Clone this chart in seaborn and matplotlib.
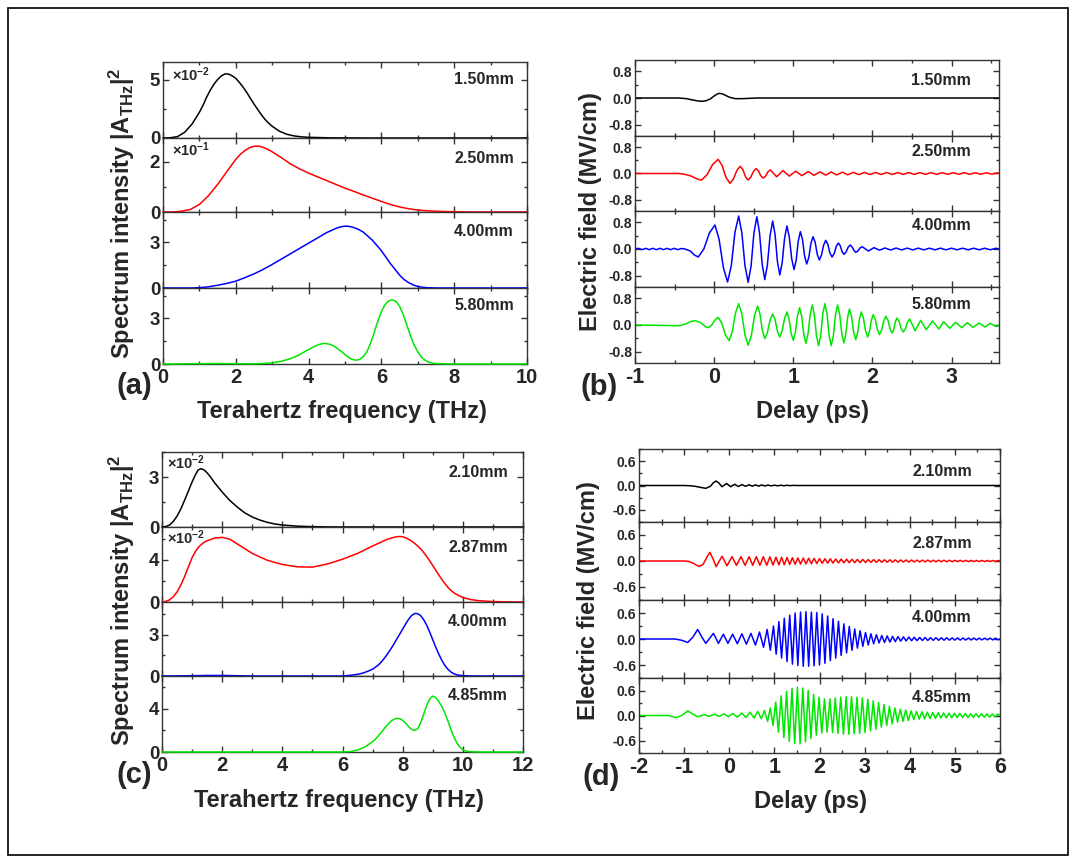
import matplotlib
matplotlib.use("Agg")
import matplotlib.pyplot as plt
from matplotlib.ticker import MultipleLocator, FormatStrFormatter
from matplotlib.patches import Rectangle
import seaborn as sns

sns.set_theme(style="ticks")
plt.rcParams["font.family"] = ["Liberation Sans", "DejaVu Sans"]
plt.rcParams["font.weight"] = "bold"
plt.rcParams["axes.unicode_minus"] = False
plt.rcParams["mathtext.fontset"] = "custom"
plt.rcParams["mathtext.rm"] = "Liberation Sans"
plt.rcParams["mathtext.bf"] = "Liberation Sans:bold"
plt.rcParams["mathtext.it"] = "Liberation Sans:bold"
plt.rcParams["mathtext.default"] = "bf"

# ---------------- data: spectra (frequency THz, intensity) ----------------
a1_f = [0, 0.2, 0.4, 0.6, 0.8, 1.0, 1.1, 1.2, 1.3, 1.4, 1.5, 1.6, 1.7, 1.8, 1.9, 2.0, 2.1, 2.2, 2.3, 2.4, 2.5,
        2.6, 2.7, 2.8, 2.9, 3.0, 3.2, 3.4, 3.6, 3.8, 4.0, 4.5, 5.0, 5.5, 10]
a1_i = [0, 0.02, 0.12, 0.5, 1.2, 2.2, 2.8, 3.5, 4.1, 4.6, 5.0, 5.3, 5.48, 5.47, 5.32, 5.1, 4.75, 4.35, 3.9, 3.4, 2.9,
        2.45, 2.0, 1.6, 1.28, 1.0, 0.58, 0.32, 0.18, 0.1, 0.06, 0.02, 0.005, 0, 0]

a2_f = [0, 0.25, 0.5, 0.75, 1, 1.25, 1.5, 1.75, 2, 2.125, 2.25, 2.375, 2.5, 2.625, 2.75, 2.875, 3, 3.25, 3.5, 3.75,
        4, 4.25, 4.5, 4.75, 5, 5.25, 5.5, 5.75, 6, 6.25, 6.5, 6.75, 7, 7.25, 7.5, 8, 8.5, 10]
a2_i = [0, 0, 0.03, 0.1, 0.3, 0.65, 1.1, 1.6, 2.1, 2.3, 2.45, 2.56, 2.62, 2.63, 2.58, 2.5, 2.4, 2.17, 1.92, 1.72,
        1.55, 1.4, 1.25, 1.1, 0.95, 0.82, 0.68, 0.55, 0.42, 0.3, 0.2, 0.13, 0.08, 0.05, 0.03, 0.01, 0, 0]

a3_f = [0, 0.75, 1, 1.25, 1.5, 1.75, 2, 2.25, 2.5, 2.75, 3, 3.25, 3.5, 3.75, 4, 4.25, 4.5, 4.75, 4.875, 5, 5.125,
        5.25, 5.375, 5.5, 5.75, 6, 6.25, 6.5, 6.625, 6.75, 6.875, 7, 7.125, 7.25, 7.5, 10]
a3_i = [0, 0, 0.02, 0.08, 0.18, 0.3, 0.45, 0.68, 0.93, 1.22, 1.55, 1.9, 2.25, 2.6, 2.95, 3.3, 3.65, 3.92, 4.02, 4.07,
        4.05, 3.97, 3.85, 3.68, 3.15, 2.45, 1.6, 0.85, 0.55, 0.35, 0.2, 0.1, 0.05, 0.02, 0, 0]

a4_f = [0, 1.0, 1.5, 2.0, 2.5, 2.75, 3.0, 3.25, 3.5, 3.6, 3.7, 3.8, 3.9, 4.0, 4.1, 4.2, 4.3, 4.4, 4.5, 4.6, 4.7,
        4.8, 4.9, 5.0, 5.1, 5.2, 5.3, 5.4, 5.5, 5.6, 5.7, 5.8, 5.9, 6.0, 6.1, 6.2, 6.3, 6.4, 6.5, 6.6, 6.7, 6.8,
        6.9, 7.0, 7.1, 7.2, 7.3, 7.4, 7.5, 7.75, 8, 10]
a4_i = [0, 0.02, 0.03, 0.02, 0.01, 0.03, 0.08, 0.18, 0.35, 0.45, 0.55, 0.68, 0.82, 0.95, 1.08, 1.2, 1.29, 1.35, 1.34,
        1.28, 1.17, 1.0, 0.82, 0.62, 0.44, 0.3, 0.25, 0.3, 0.48, 0.8, 1.35, 2.05, 2.8, 3.45, 3.9, 4.15, 4.22, 4.12,
        3.8, 3.25, 2.55, 1.85, 1.25, 0.8, 0.45, 0.25, 0.12, 0.06, 0.03, 0.01, 0, 0]

c1_f = [0, 0.125, 0.25, 0.375, 0.5, 0.625, 0.75, 0.875, 1.0, 1.1, 1.2, 1.3, 1.4, 1.5, 1.625, 1.75, 2, 2.25, 2.5,
        2.75, 3, 3.25, 3.5, 3.75, 4, 4.5, 5, 5.5, 6, 12]
c1_i = [0, 0.03, 0.12, 0.33, 0.65, 1.08, 1.6, 2.15, 2.7, 3.1, 3.42, 3.5, 3.42, 3.25, 2.97, 2.65, 2.1, 1.6, 1.2,
        0.85, 0.6, 0.42, 0.28, 0.18, 0.12, 0.05, 0.02, 0.005, 0, 0]

c2_f = [0, 0.125, 0.25, 0.375, 0.5, 0.625, 0.75, 0.875, 1.0, 1.125, 1.25, 1.375, 1.5, 1.75, 2.0, 2.25, 2.5, 3.0,
        3.5, 4.0, 4.5, 5.0, 5.5, 6.0, 6.5, 7.0, 7.5, 7.75, 7.875, 8.0, 8.125, 8.25, 8.375, 8.5, 8.625, 8.75, 8.875,
        9.0, 9.125, 9.25, 9.375, 9.5, 9.625, 9.75, 10.0, 10.25, 10.5, 11, 11.5, 12]
c2_i = [0, 0.06, 0.2, 0.5, 0.95, 1.6, 2.4, 3.3, 4.2, 4.85, 5.3, 5.6, 5.8, 6.05, 6.12, 5.95, 5.5, 4.6,
        3.95, 3.55, 3.33, 3.3, 3.6, 4.05, 4.6, 5.3, 5.95, 6.15, 6.2, 6.18, 6.05, 5.85, 5.6, 5.3, 4.95, 4.5, 4.0,
        3.45, 2.9, 2.35, 1.85, 1.4, 1.05, 0.78, 0.42, 0.24, 0.13, 0.04, 0.01, 0]

c3_f = [0, 1, 1.5, 2, 2.5, 3, 6, 6.25, 6.5, 6.6, 6.7, 6.8, 6.9, 7.0, 7.1, 7.2, 7.3, 7.4, 7.5, 7.6, 7.7, 7.8, 7.9,
        8.0, 8.1, 8.2, 8.3, 8.4, 8.5, 8.6, 8.7, 8.8, 8.9, 9.0, 9.1, 9.2, 9.3, 9.4, 9.5, 9.6, 9.7, 9.8, 9.9, 10.0,
        10.2, 10.5, 12]
c3_i = [0, 0.02, 0.04, 0.04, 0.02, 0, 0, 0.05, 0.12, 0.17, 0.23, 0.31, 0.4, 0.5, 0.65, 0.82, 1.05, 1.32, 1.62,
        1.95, 2.3, 2.68, 3.05, 3.42, 3.8, 4.15, 4.42, 4.56, 4.55, 4.4, 4.1, 3.7, 3.2, 2.65, 2.1, 1.6, 1.15, 0.78,
        0.5, 0.3, 0.17, 0.09, 0.05, 0.03, 0.01, 0, 0]

c4_f = [0, 6.0, 6.25, 6.5, 6.75, 7.0, 7.1, 7.2, 7.3, 7.4, 7.5, 7.6, 7.7, 7.8, 7.9, 8.0, 8.1, 8.2, 8.3, 8.4, 8.5,
        8.6, 8.7, 8.8, 8.9, 9.0, 9.1, 9.2, 9.3, 9.4, 9.5, 9.6, 9.7, 9.8, 9.9, 10.0, 10.1, 10.2, 10.4, 10.6, 12]
c4_i = [0, 0, 0.04, 0.18, 0.47, 0.95, 1.2, 1.5, 1.85, 2.2, 2.52, 2.8, 3.0, 3.1, 3.07, 2.92, 2.65, 2.33, 2.07,
        1.98, 2.15, 2.7, 3.5, 4.3, 4.9, 5.15, 5.0, 4.65, 4.2, 3.6, 2.9, 2.1, 1.4, 0.85, 0.45, 0.2, 0.09, 0.04,
        0.01, 0, 0]

# ---------------- data: waveforms, (delay ps, field MV/cm) ----------------
b1_pts = [(-1, 0), (-0.45, 0), (-0.35, -0.02), (-0.27, -0.06), (-0.2, -0.09), (-0.15, -0.10), (-0.1, -0.08),
          (-0.05, -0.03), (0.0, 0.06), (0.04, 0.12), (0.07, 0.14), (0.11, 0.12), (0.16, 0.06), (0.21, 0.01),
          (0.27, -0.02), (0.35, -0.02), (0.45, -0.01), (0.55, 0), (3.6, 0)]

b2_pts = [(-1, 0), (-0.45, 0), (-0.38, -0.02), (-0.3, -0.07), (-0.22, -0.16), (-0.16, -0.20), (-0.09, -0.04),
          (-0.02, 0.27), (0.05, 0.43), (0.10, 0.25), (0.15, -0.12), (0.20, -0.30), (0.243, -0.17), (0.287, 0.09),
          (0.33, 0.22), (0.363, 0.12), (0.397, -0.10), (0.43, -0.20), (0.463, -0.11), (0.497, 0.06), (0.53, 0.15),
          (0.56, 0.08), (0.59, -0.07), (0.62, -0.14), (0.65, -0.08), (0.68, 0.05), (0.71, 0.11), (0.79, -0.10),
          (0.87, 0.09), (0.95, -0.08), (1.03, 0.07), (1.11, -0.065), (1.19, 0.06), (1.26, -0.055), (1.34, 0.05),
          (1.41, -0.05), (1.48, 0.045), (1.55, -0.045), (1.62, 0.04), (1.69, -0.04), (1.76, 0.036), (1.83, -0.035),
          (1.90, 0.034), (1.97, -0.033), (2.04, 0.032), (2.11, -0.031), (2.18, 0.03), (2.25, -0.03), (2.32, 0.029),
          (2.39, -0.028), (2.46, 0.028), (2.53, -0.027), (2.60, 0.027), (2.67, -0.026), (2.74, 0.026),
          (2.81, -0.025), (2.88, 0.025), (2.95, -0.024), (3.02, 0.024), (3.09, -0.023), (3.16, 0.023),
          (3.23, -0.022), (3.30, 0.022), (3.37, -0.021), (3.44, 0.021), (3.51, -0.02), (3.58, 0.02), (3.6, 0.0)]

b3_pts = [(-1.0, 0.0), (-0.955, 0.02), (-0.91, -0.02), (-0.865, 0.02), (-0.82, -0.02), (-0.775, 0.02), (-0.73, -0.02),
          (-0.685, 0.02), (-0.64, -0.02), (-0.595, 0.02), (-0.55, -0.02), (-0.505, 0.02), (-0.46, -0.02),
          (-0.415, 0.015), (-0.37, 0.0), (-0.3, -0.06), (-0.25, -0.18), (-0.2, -0.24), (-0.13, 0.0),
          (-0.06, 0.48), (0.01, 0.72), (0.063, 0.29), (0.117, -0.56), (0.17, -0.99), (0.217, -0.50), (0.263, 0.50),
          (0.31, 0.99), (0.35, 0.49), (0.39, -0.50), (0.43, -1.0), (0.467, -0.51), (0.503, 0.48), (0.54, 0.97),
          (0.573, 0.50), (0.607, -0.45), (0.64, -0.92), (0.673, -0.48), (0.707, 0.40), (0.74, 0.84), (0.77, 0.44),
          (0.80, -0.38), (0.83, -0.78), (0.86, -0.41), (0.89, 0.32), (0.92, 0.69), (0.95, 0.36), (0.98, -0.29),
          (1.01, -0.62), (1.037, -0.34), (1.063, 0.24), (1.09, 0.52), (1.117, 0.28), (1.143, -0.21), (1.17, -0.45),
          (1.197, -0.25), (1.223, 0.17), (1.25, 0.37), (1.277, 0.20), (1.303, -0.16), (1.33, -0.33), (1.357, -0.18),
          (1.383, 0.11), (1.41, 0.26), (1.437, 0.14), (1.463, -0.12), (1.49, -0.24), (1.517, -0.14), (1.543, 0.08),
          (1.57, 0.18), (1.593, 0.10), (1.617, -0.08), (1.64, -0.16), (1.667, -0.09), (1.693, 0.05), (1.72, 0.12),
          (1.743, 0.06), (1.767, -0.04), (1.79, -0.10), (1.817, -0.06), (1.843, 0.03), (1.87, 0.07), (1.95, -0.06),
          (2.02, 0.04), (2.09, -0.035), (2.16, 0.03), (2.23, -0.03), (2.30, 0.028), (2.37, -0.028), (2.44, 0.027),
          (2.51, -0.027), (2.58, 0.026), (2.65, -0.026), (2.72, 0.025), (2.79, -0.025), (2.86, 0.025),
          (2.93, -0.025), (3.00, 0.024), (3.07, -0.024), (3.14, 0.024), (3.21, -0.024), (3.28, 0.023),
          (3.35, -0.023), (3.42, 0.023), (3.49, -0.023), (3.56, 0.022), (3.6, 0.0)]

b4_pts = [(-1, 0), (-0.7, -0.01), (-0.5, -0.02), (-0.43, -0.02), (-0.36, 0.03), (-0.30, 0.10), (-0.24, 0.13),
          (-0.17, 0.07), (-0.11, -0.05), (-0.07, -0.08), (-0.03, 0.0), (0.01, 0.15), (0.05, 0.23), (0.097, 0.06),
          (0.143, -0.30), (0.19, -0.47), (0.23, -0.19), (0.27, 0.36), (0.31, 0.64), (0.35, 0.33), (0.39, -0.30),
          (0.43, -0.61), (0.47, -0.32), (0.51, 0.28), (0.55, 0.57), (0.58, 0.32), (0.61, -0.17), (0.64, -0.41),
          (0.673, -0.23), (0.707, 0.15), (0.74, 0.33), (0.77, 0.16), (0.80, -0.19), (0.83, -0.36), (0.86, -0.17),
          (0.89, 0.20), (0.92, 0.39), (0.947, 0.18), (0.973, -0.25), (1.00, -0.46), (1.027, -0.22), (1.053, 0.28),
          (1.08, 0.52), (1.107, 0.25), (1.133, -0.28), (1.16, -0.55), (1.187, -0.26), (1.213, 0.31), (1.24, 0.60),
          (1.267, 0.30), (1.293, -0.32), (1.32, -0.62), (1.347, -0.31), (1.373, 0.33), (1.40, 0.64), (1.427, 0.33),
          (1.453, -0.31), (1.48, -0.62), (1.507, -0.32), (1.533, 0.30), (1.56, 0.60), (1.587, 0.32), (1.613, -0.26),
          (1.64, -0.54), (1.663, -0.29), (1.687, 0.23), (1.71, 0.48), (1.737, 0.25), (1.763, -0.21), (1.79, -0.44),
          (1.813, -0.23), (1.837, 0.18), (1.86, 0.39), (1.887, 0.20), (1.913, -0.17), (1.94, -0.36), (1.963, -0.19),
          (1.987, 0.14), (2.01, 0.31), (2.037, 0.16), (2.063, -0.14), (2.09, -0.29), (2.117, -0.15), (2.143, 0.12),
          (2.17, 0.26), (2.197, 0.14), (2.223, -0.12), (2.25, -0.24), (2.27, -0.13), (2.29, 0.10), (2.31, 0.21),
          (2.337, 0.11), (2.363, -0.11), (2.39, -0.21), (2.417, -0.11), (2.443, 0.08), (2.47, 0.18), (2.54, -0.17),
          (2.61, 0.14), (2.68, -0.14), (2.76, 0.12), (2.84, -0.12), (2.90, 0.10), (2.98, -0.10), (3.05, 0.08),
          (3.13, -0.08), (3.20, 0.07), (3.27, -0.07), (3.35, 0.06), (3.42, -0.06), (3.49, 0.05), (3.57, -0.05),
          (3.6, 0.0)]

d1_pts = [(-2, 0), (-1.0, 0), (-0.88, -0.005), (-0.75, -0.02), (-0.62, -0.05), (-0.52, -0.07), (-0.42, -0.02),
          (-0.35, 0.07), (-0.29, 0.11), (-0.23, 0.06), (-0.16, -0.03), (-0.06, 0.05), (0.03, -0.03), (0.12, 0.03),
          (0.20, -0.025), (0.28, 0.022), (0.36, -0.02), (0.44, 0.018), (0.51, -0.017), (0.58, 0.015), (0.65, -0.014),
          (0.72, 0.013), (0.79, -0.012), (0.86, 0.011), (0.93, -0.01), (1.0, 0.009), (1.07, -0.008), (1.14, 0.007),
          (1.21, -0.006), (1.28, 0.005), (1.35, -0.004), (1.42, 0.003), (1.5, 0), (6, 0)]

d2_pts = [(-2, 0), (-1.0, 0), (-0.9, -0.01), (-0.8, -0.05), (-0.72, -0.10), (-0.66, -0.12), (-0.58, -0.08),
          (-0.5, 0.08), (-0.43, 0.20), (-0.36, 0.05), (-0.29, -0.13), (-0.16, 0.11), (-0.05, -0.11), (0.06, 0.10),
          (0.16, -0.10), (0.26, 0.10), (0.35, -0.10), (0.44, 0.10), (0.52, -0.10), (0.60, 0.10), (0.68, -0.10),
          (0.755, 0.10), (0.83, -0.10), (0.90, 0.095), (0.97, -0.095), (1.035, 0.09), (1.10, -0.09), (1.16, 0.085),
          (1.22, -0.085), (1.28, 0.08), (1.34, -0.08), (1.40, 0.075), (1.46, -0.075), (1.52, 0.07), (1.58, -0.07),
          (1.64, 0.068), (1.70, -0.066), (1.76, 0.064), (1.82, -0.062), (1.88, 0.06), (1.94, -0.058), (2.00, 0.056),
          (2.06, -0.054), (2.12, 0.052), (2.18, -0.05), (2.24, 0.05), (2.30, -0.048), (2.36, 0.046), (2.42, -0.045),
          (2.48, 0.044), (2.54, -0.042), (2.60, 0.041), (2.66, -0.04), (2.72, 0.039), (2.78, -0.038), (2.84, 0.037),
          (2.90, -0.036), (2.96, 0.035), (3.02, -0.034), (3.08, 0.033), (3.14, -0.032), (3.20, 0.032), (3.26, -0.031),
          (3.32, 0.03), (3.38, -0.03), (3.44, 0.029), (3.50, -0.028), (3.56, 0.028), (3.62, -0.027), (3.68, 0.026),
          (3.74, -0.026), (3.80, 0.025), (3.86, -0.025), (3.92, 0.024), (3.98, -0.024), (4.04, 0.023), (4.10, -0.023),
          (4.16, 0.022), (4.22, -0.022), (4.28, 0.021), (4.34, -0.021), (4.40, 0.02), (4.46, -0.02), (4.52, 0.02),
          (4.58, -0.019), (4.64, 0.019), (4.70, -0.018), (4.76, 0.018), (4.82, -0.018), (4.88, 0.017), (4.94, -0.017),
          (5.00, 0.017), (5.06, -0.016), (5.12, 0.016), (5.18, -0.016), (5.24, 0.015), (5.30, -0.015), (5.36, 0.015),
          (5.42, -0.015), (5.48, 0.014), (5.54, -0.014), (5.60, 0.014), (5.66, -0.014), (5.72, 0.013), (5.78, -0.013),
          (5.84, 0.013), (5.90, -0.013), (5.96, 0.012), (6.0, 0.0)]

d3_pts = [(-2, 0), (-1.2, 0), (-1.05, -0.03), (-0.92, -0.08), (-0.80, 0.05), (-0.70, 0.22), (-0.61, 0.05),
          (-0.52, -0.10), (-0.35, 0.13), (-0.24, -0.10), (-0.13, 0.11), (-0.03, -0.10), (0.075, 0.11), (0.18, -0.11),
          (0.28, 0.12), (0.38, -0.12), (0.48, 0.13), (0.58, -0.14), (0.67, 0.16), (0.76, -0.19), (0.84, 0.22),
          (0.91, -0.26), (0.98, 0.30), (1.04, -0.35), (1.10, 0.40), (1.16, -0.44), (1.22, 0.48), (1.28, -0.52),
          (1.34, 0.55), (1.40, -0.58), (1.46, 0.60), (1.52, -0.61), (1.58, 0.62), (1.64, -0.63), (1.70, 0.63),
          (1.76, -0.63), (1.82, 0.62), (1.88, -0.62), (1.94, 0.61), (2.00, -0.60), (2.06, 0.58), (2.12, -0.56),
          (2.18, 0.53), (2.24, -0.50), (2.30, 0.47), (2.36, -0.44), (2.42, 0.41), (2.48, -0.38), (2.54, 0.35),
          (2.60, -0.32), (2.66, 0.29), (2.72, -0.26), (2.78, 0.23), (2.84, -0.21), (2.90, 0.19), (2.96, -0.17),
          (3.02, 0.15), (3.08, -0.14), (3.14, 0.12), (3.20, -0.11), (3.26, 0.10), (3.32, -0.09), (3.38, 0.08),
          (3.44, -0.08), (3.50, 0.07), (3.56, -0.07), (3.62, 0.06), (3.68, -0.06), (3.74, 0.055), (3.80, -0.05),
          (3.86, 0.05), (3.92, -0.045), (3.98, 0.045), (4.04, -0.04), (4.10, 0.04), (4.16, -0.038), (4.22, 0.036),
          (4.28, -0.035), (4.34, 0.034), (4.40, -0.033), (4.46, 0.032), (4.52, -0.031), (4.58, 0.03), (4.64, -0.03),
          (4.70, 0.029), (4.76, -0.028), (4.82, 0.028), (4.88, -0.027), (4.94, 0.026), (5.00, -0.026), (5.06, 0.025),
          (5.12, -0.025), (5.18, 0.024), (5.24, -0.024), (5.30, 0.023), (5.36, -0.023), (5.42, 0.022), (5.48, -0.022),
          (5.54, 0.021), (5.60, -0.021), (5.66, 0.02), (5.72, -0.02), (5.78, 0.02), (5.84, -0.02), (5.90, 0.019),
          (5.96, -0.019), (6.0, 0)]

d4_pts = [(-2, 0), (-1.35, 0), (-1.25, -0.03), (-1.18, -0.05), (-1.05, 0.0), (-0.92, 0.11), (-0.80, 0.03),
          (-0.70, -0.03), (-0.55, 0.02), (-0.45, -0.02), (-0.33, 0.03), (-0.22, -0.02), (-0.12, 0.04), (-0.02, -0.03),
          (0.08, 0.05), (0.18, -0.04), (0.28, 0.06), (0.37, -0.05), (0.46, 0.08), (0.55, -0.06), (0.63, 0.10),
          (0.71, -0.08), (0.78, 0.12), (0.85, -0.14), (0.91, 0.18), (0.97, -0.24), (1.03, 0.32), (1.09, -0.40),
          (1.15, 0.47), (1.21, -0.53), (1.27, 0.58), (1.33, -0.62), (1.39, 0.65), (1.45, -0.67), (1.51, 0.68),
          (1.57, -0.68), (1.63, 0.66), (1.69, -0.63), (1.75, 0.60), (1.81, -0.55), (1.87, 0.51), (1.93, -0.47),
          (1.99, 0.44), (2.05, -0.42), (2.11, 0.40), (2.17, -0.40), (2.23, 0.40), (2.29, -0.41), (2.35, 0.42),
          (2.41, -0.43), (2.47, 0.44), (2.53, -0.45), (2.59, 0.45), (2.65, -0.45), (2.71, 0.45), (2.77, -0.44),
          (2.83, 0.44), (2.89, -0.43), (2.95, 0.42), (3.01, -0.41), (3.07, 0.39), (3.13, -0.37), (3.19, 0.35),
          (3.25, -0.33), (3.31, 0.31), (3.37, -0.28), (3.43, 0.26), (3.49, -0.24), (3.55, 0.22), (3.61, -0.20),
          (3.67, 0.18), (3.73, -0.16), (3.79, 0.15), (3.85, -0.14), (3.91, 0.13), (3.97, -0.12), (4.03, 0.11),
          (4.09, -0.10), (4.15, 0.10), (4.21, -0.09), (4.27, 0.09), (4.33, -0.08), (4.39, 0.08), (4.45, -0.075),
          (4.51, 0.07), (4.57, -0.07), (4.63, 0.065), (4.69, -0.06), (4.75, 0.06), (4.81, -0.058), (4.87, 0.056),
          (4.93, -0.054), (4.99, 0.052), (5.05, -0.05), (5.11, 0.05), (5.17, -0.048), (5.23, 0.047), (5.29, -0.046),
          (5.35, 0.045), (5.41, -0.044), (5.47, 0.043), (5.53, -0.042), (5.59, 0.041), (5.65, -0.04), (5.71, 0.04),
          (5.77, -0.039), (5.83, 0.038), (5.89, -0.037), (5.95, 0.036), (6.0, 0.0)]

labels_a = ["1.50mm", "2.50mm", "4.00mm", "5.80mm"]
labels_c = ["2.10mm", "2.87mm", "4.00mm", "4.85mm"]
scale_a = ["×10$^{-2}$", "×10$^{-1}$", None, None]
scale_c = ["×10$^{-2}$", "×10$^{-2}$", None, None]
colors = ["#000000", "#ff0000", "#0000ff", "#00e600"]

# ---------------- layout ----------------
W, H = 1077, 863
fig = plt.figure(figsize=(W / 100, H / 100), dpi=100)
fig.patch.set_facecolor("white")
fig.patches.append(Rectangle((8 / W, 1 - 855 / H), 1060 / W, 847 / H, transform=fig.transFigure,
                             fill=False, edgecolor="black", linewidth=1.2))


def rect(l, r, t, b):
    return [l / W, 1 - b / H, (r - l) / W, (b - t) / H]


def style(ax, xlim, xmaj, xmin, ylim, ymaj, ymin, yfmt, yls, xls, show_x):
    ax.set_xlim(*xlim)
    ax.set_ylim(*ylim)
    ax.xaxis.set_major_locator(MultipleLocator(xmaj))
    ax.xaxis.set_minor_locator(MultipleLocator(xmin))
    ax.yaxis.set_major_locator(MultipleLocator(ymaj))
    ax.yaxis.set_minor_locator(MultipleLocator(ymin))
    if yfmt:
        ax.yaxis.set_major_formatter(FormatStrFormatter(yfmt))
    ax.tick_params(which="both", direction="in", top=True, right=True, width=1.0, color="#333333")
    ax.tick_params(which="major", length=4)
    ax.tick_params(which="minor", length=2.5)
    ax.tick_params(axis="y", labelsize=yls, pad=2)
    ax.tick_params(axis="x", labelsize=xls, pad=3, labelbottom=show_x)
    for lab in ax.get_xticklabels() + ax.get_yticklabels():
        lab.set_fontweight("bold")
    for sp in ax.spines.values():
        sp.set_linewidth(1.0)
        sp.set_color("#333333")
    ax.set_xlabel("")
    ax.set_ylabel("")
    ax.set_facecolor("white")


def draw(ax, x, y, color, spectrum):
    sns.lineplot(x=list(x), y=list(y), ax=ax, color=color, linewidth=1.1, estimator=None,
                 errorbar=None, sort=False, legend=False)
    if spectrum:
        ax.lines[-1].set_clip_on(False)
        ax.lines[-1].set_zorder(3)


def ftxt(x, y, s, **kw):
    fig.text(x / W, 1 - y / H, s, **kw)


# panel (a)
edges_a = [62, 138, 212, 288, 364]
spec_a = [(a1_f, a1_i), (a2_f, a2_i), (a3_f, a3_i), (a4_f, a4_i)]
ylims_a = [(0, 6.5, 5, 2.5), (0, 2.95, 2, 1), (0, 5, 3, 1.5), (0, 5, 3, 1.5)]
lab_a_y = [79.5, 158, 231, 306]
sc_a_y = [75, 150]
for k in range(4):
    ax = fig.add_axes(rect(163, 527, edges_a[k], edges_a[k + 1]))
    draw(ax, spec_a[k][0], spec_a[k][1], colors[k], True)
    y0, y1, ym, yn = ylims_a[k]
    style(ax, (0, 10), 2, 1, (y0, y1), ym, yn, None, 13.5, 14.5, k == 3)
    ftxt(514, lab_a_y[k], labels_a[k], ha="right", va="center", fontsize=11.5, fontweight="bold")
    if scale_a[k]:
        ftxt(172, sc_a_y[k], scale_a[k], ha="left", va="center", fontsize=10.5, fontweight="bold")

# panel (b)
edges_b = [60, 136, 211, 287, 363]
wav_b = [b1_pts, b2_pts, b3_pts, b4_pts]
lab_b_y = [80.5, 152, 226, 304.5]
for k in range(4):
    ax = fig.add_axes(rect(635, 999, edges_b[k], edges_b[k + 1]))
    t, v = zip(*wav_b[k])
    draw(ax, t, v, colors[k], False)
    style(ax, (-1, 3.6), 1, 0.5, (-1.14, 1.14), 0.8, 0.4, "%.1f", 10, 15.5, k == 3)
    ftxt(971, lab_b_y[k], labels_a[k], ha="right", va="center", fontsize=11.5, fontweight="bold")

# panel (c)
edges_c = [452, 527, 602, 676, 752]
spec_c = [(c1_f, c1_i), (c2_f, c2_i), (c3_f, c3_i), (c4_f, c4_i)]
ylims_c = [(0, 4.5, 3, 1.5), (0, 7.1, 4, 2), (0, 5.4, 3, 1.5), (0, 7.0, 4, 2)]
lab_c_y = [472, 547, 621, 696]
sc_c_y = [462.5, 537.5]
for k in range(4):
    ax = fig.add_axes(rect(162, 523, edges_c[k], edges_c[k + 1]))
    draw(ax, spec_c[k][0], spec_c[k][1], colors[k], True)
    y0, y1, ym, yn = ylims_c[k]
    style(ax, (0, 12), 2, 1, (y0, y1), ym, yn, None, 13.5, 14.5, k == 3)
    ftxt(508, lab_c_y[k], labels_c[k], ha="right", va="center", fontsize=11.5, fontweight="bold")
    if scale_c[k]:
        ftxt(167, sc_c_y[k], scale_c[k], ha="left", va="center", fontsize=10.5, fontweight="bold")

# panel (d)
edges_d = [449, 522, 600, 678, 753]
wav_d = [d1_pts, d2_pts, d3_pts, d4_pts]
lab_d_y = [471, 544, 617, 697]
for k in range(4):
    ax = fig.add_axes(rect(639, 1000, edges_d[k], edges_d[k + 1]))
    t, v = zip(*wav_d[k])
    draw(ax, t, v, colors[k], False)
    style(ax, (-2, 6), 1, 0.5, (-0.9, 0.9), 0.6, 0.3, "%.1f", 10, 15.5, k == 3)
    ftxt(972, lab_d_y[k], labels_c[k], ha="right", va="center", fontsize=11.5, fontweight="bold")

# axis titles & panel letters
ylab_spec = "Spectrum intensity |A$_{\\mathbf{THz}}$|$^{\\mathbf{2}}$"
ftxt(122, 213, ylab_spec, rotation=90, ha="center", va="center", fontsize=17, fontweight="bold")
ftxt(122, 600, ylab_spec, rotation=90, ha="center", va="center", fontsize=17, fontweight="bold")
ftxt(591, 212, "Electric field (MV/cm)", rotation=90, ha="center", va="center", fontsize=17, fontweight="bold")
ftxt(588, 601, "Electric field (MV/cm)", rotation=90, ha="center", va="center", fontsize=17, fontweight="bold")
ftxt(342, 411, "Terahertz frequency (THz)", ha="center", va="center", fontsize=17, fontweight="bold")
ftxt(812, 411, "Delay (ps)", ha="center", va="center", fontsize=17, fontweight="bold")
ftxt(339, 800, "Terahertz frequency (THz)", ha="center", va="center", fontsize=17, fontweight="bold")
ftxt(811, 801, "Delay (ps)", ha="center", va="center", fontsize=17, fontweight="bold")
ftxt(134, 386, "(a)", ha="center", va="center", fontsize=21, fontweight="bold")
ftxt(599, 387, "(b)", ha="center", va="center", fontsize=21, fontweight="bold")
ftxt(134, 775, "(c)", ha="center", va="center", fontsize=21, fontweight="bold")
ftxt(601, 777, "(d)", ha="center", va="center", fontsize=21, fontweight="bold")

fig.savefig("out.png", dpi=100, facecolor="white")
